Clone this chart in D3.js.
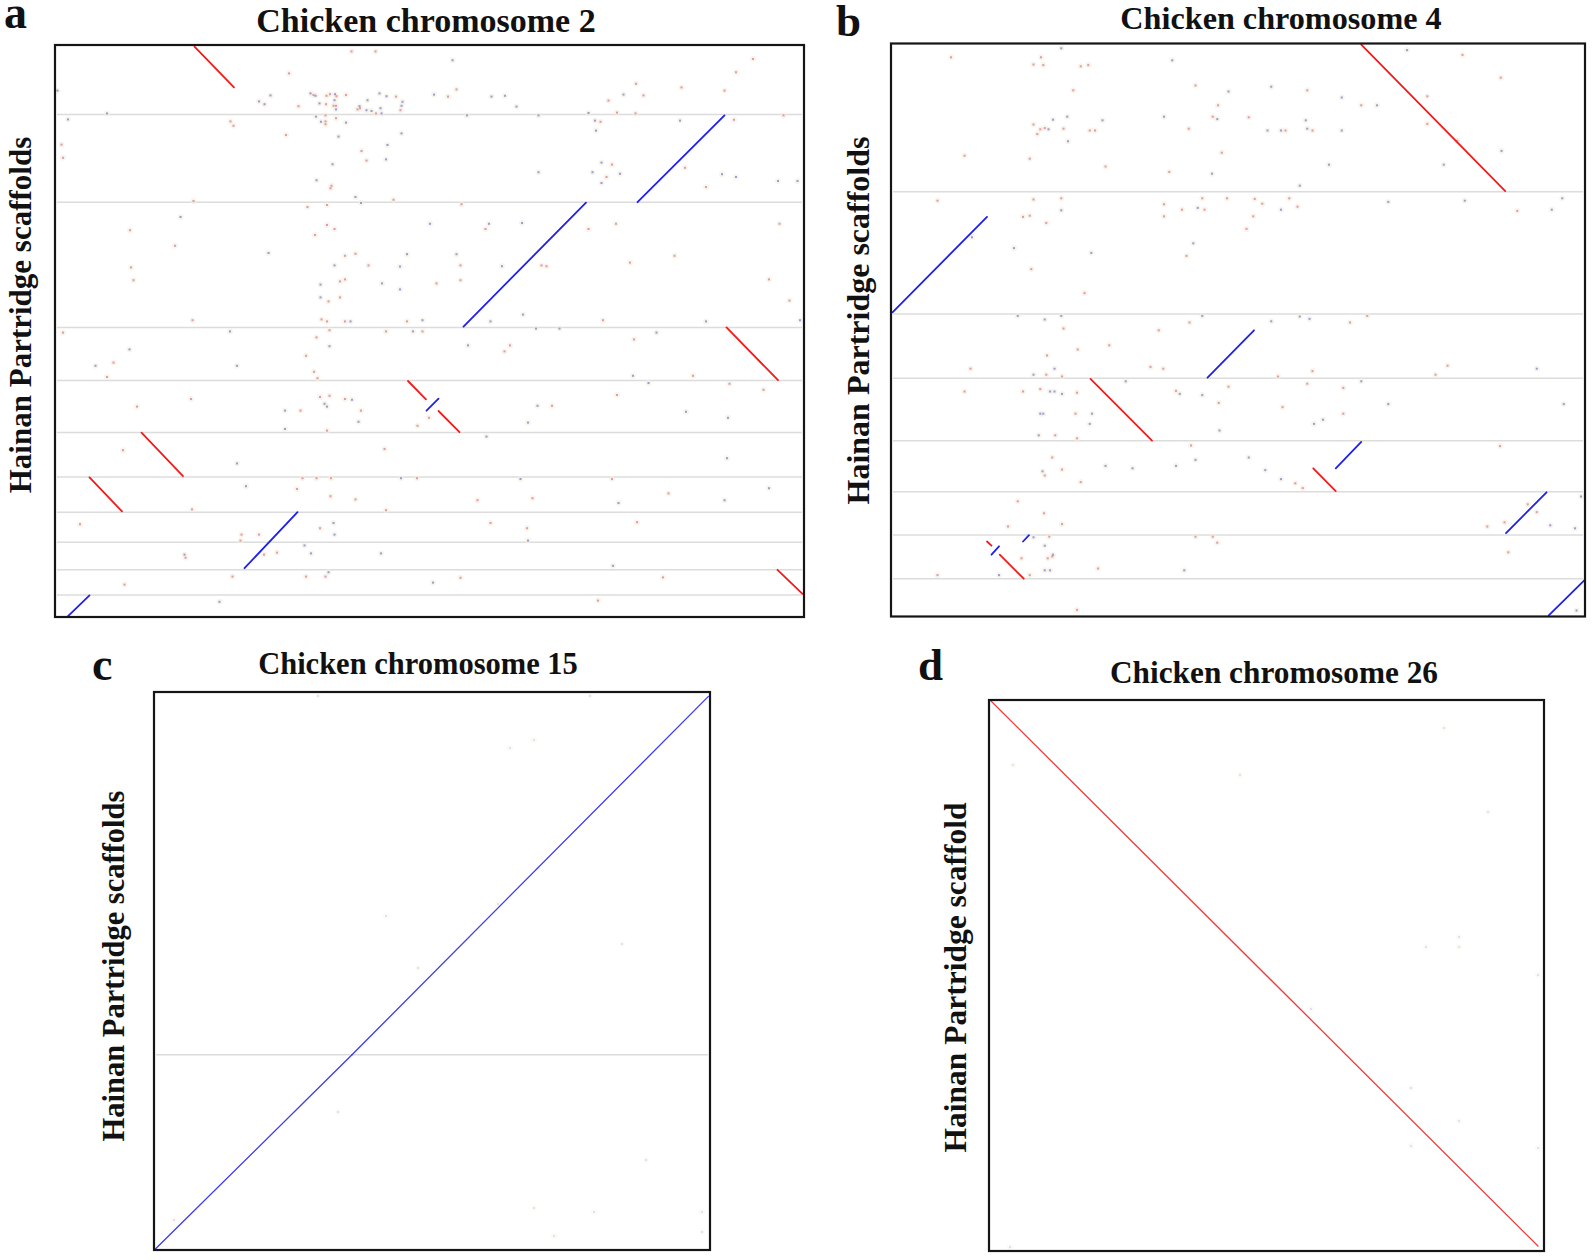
<!DOCTYPE html>
<html><head><meta charset="utf-8">
<script src="https://cdn.jsdelivr.net/npm/d3@7"></script>
<style>body{margin:0;background:#fff}svg{display:block}</style>
</head><body><svg id="chart" width="1595" height="1260"></svg>
<script>
// ---------------- DATA ----------------
const titles = ["Chicken chromosome 2", "Chicken chromosome 4", "Chicken chromosome 15", "Chicken chromosome 26"];
const panelLetters = ["a", "b", "c", "d"];
const yLabels = ["Hainan Partridge scaffolds", "Hainan Partridge scaffolds", "Hainan Partridge scaffolds", "Hainan Partridge scaffold"];
// chicken chromosome length (Mb, x axis) and summed scaffold length (Mb, y axis, top -> bottom)
const chromLengthMb = [149.8, 92.53, 13.9, 5.55];
const scaffoldTotalMb = [143, 95.5, 13.95, 5.51];

// scaffold boundaries along y (Mb)
const scaffoldBreaksA = [17.4, 39.3, 70.6, 83.9, 96.9, 108.0, 116.8, 124.3, 131.2, 137.5];
const scaffoldBreaksB = [24.7, 45.1, 55.8, 66.2, 74.7, 81.9, 89.2];
const scaffoldBreaksC = [9.07];
const scaffoldBreaksD = [];

// alignment blocks: [chrStart, scafStart, chrEnd, scafEnd, strand]
const alignA = [
  [27.9, 0.4, 35.8, 10.6, "-"],
  [116.5, 39.3, 133.9, 17.6, "+"],
  [81.7, 70.4, 106.2, 39.4, "+"],
  [134.3, 70.6, 144.6, 83.8, "-"],
  [70.6, 84.0, 74.2, 88.6, "-"],
  [74.3, 91.4, 76.7, 88.4, "+"],
  [76.7, 91.5, 80.9, 96.8, "-"],
  [17.3, 96.9, 25.6, 107.8, "-"],
  [6.9, 108.1, 13.4, 116.6, "-"],
  [37.9, 130.8, 48.5, 116.8, "+"],
  [144.5, 131.2, 149.5, 137.2, "-"],
  [2.5, 142.9, 6.9, 137.6, "+"]
];
const alignB = [
  [62.7, 0.2, 81.9, 24.6, "-"],
  [0.2, 44.8, 12.8, 28.9, "+"],
  [42.2, 55.7, 48.4, 47.8, "+"],
  [26.6, 55.9, 34.8, 66.2, "-"],
  [59.3, 70.8, 62.7, 66.4, "+"],
  [56.3, 70.8, 59.3, 74.6, "-"],
  [82.0, 81.6, 87.4, 74.8, "+"],
  [12.8, 83.0, 13.4, 83.7, "-"],
  [13.4, 85.2, 14.4, 83.8, "+"],
  [14.5, 85.2, 17.7, 89.2, "-"],
  [17.6, 83.0, 18.4, 81.95, "+"],
  [87.7, 95.3, 92.5, 89.4, "+"]
];
const alignC = [
  [0.04, 13.92, 4.95, 9.07, "+"],
  [4.95, 9.07, 13.86, 0.11, "+"]
];
const alignD = [
  [0.02, 0.01, 5.49, 5.46, "-"]
];

// short spurious hits: [chr, scaf, colour r/b]
const hitsA = [
  [59.3,1.6,"r"],[64.1,1.6,"r"],[79.5,3.8,"b"],[139.6,3.5,"r"],[136.2,6.8,"r"],[46.8,7.1,"r"],[0.5,11.4,"b"],
  [125.3,10.6,"r"],[133.9,11.4,"r"],[116.2,9.7,"r"],[113.7,12.4,"b"],[117.7,12.6,"r"],[80.3,11.1,"r"],[78.6,12.9,"r"],
  [75.8,12.4,"b"],[87.3,12.9,"b"],[90.0,12.7,"b"],[92.3,15.4,"b"],[110.7,13.9,"r"],[112.4,16.9,"r"],[116.1,17.1,"r"],
  [106.7,17.0,"b"],[96.7,17.6,"b"],[82.4,17.6,"b"],[10.4,17.1,"b"],[40.8,14.1,"b"],[43.1,12.6,"b"],[145.7,17.6,"r"],
  [41.9,14.8,"b"],[48.7,15.3,"r"],[51.1,12.1,"b"],[51.7,12.5,"r"],[52.1,12.7,"b"],[52.9,14.6,"b"],[54.3,12.7,"r"],
  [55.0,12.3,"r"],[54.2,14.8,"r"],[56.0,12.3,"b"],[56.3,12.8,"r"],[55.9,13.8,"b"],[55.7,15.2,"r"],[56.2,15.2,"r"],
  [56.2,16.1,"b"],[58.2,12.5,"r"],[60.5,16.1,"r"],[60.9,15.3,"b"],[61.0,15.8,"r"],[62.5,13.8,"b"],[62.3,16.3,"b"],
  [63.3,16.5,"b"],[64.2,17.1,"r"],[64.9,12.1,"b"],[66.3,12.8,"b"],[68.2,12.9,"r"],[69.5,14.2,"b"],[69.3,15.2,"b"],
  [69.1,16.3,"r"],[65.1,15.8,"b"],[65.3,17.1,"b"],
  [35.1,19.1,"r"],[35.7,20.2,"r"],[52.2,17.9,"b"],[53.2,19.2,"b"],[54.1,17.6,"r"],[54.1,19.1,"r"],[54.1,19.8,"r"],
  [56.2,18.3,"r"],[58.2,19.4,"b"],[46.2,22.5,"r"],[56.7,22.9,"b"],[69.3,22.1,"b"],[66.5,25.0,"b"],[61.3,26.5,"r"],
  [62.3,28.9,"r"],[66.2,28.6,"b"],[55.5,29.8,"b"],[52.3,33.8,"b"],[55.3,35.2,"r"],[55.1,35.8,"r"],[2.6,18.6,"b"],
  [108.0,18.9,"b"],[108.2,21.4,"b"],[109.1,19.2,"r"],[96.7,31.8,"b"],[109.3,29.4,"b"],[111.4,29.9,"r"],[107.5,31.8,"b"],
  [110.3,33.0,"r"],[113.0,32.2,"b"],[109.3,34.5,"b"],[133.4,32.3,"b"],[136.2,33.0,"b"],[144.6,34.0,"b"],[148.5,34.0,"b"],
  [130.2,35.5,"r"],[135.8,18.7,"r"],[126.0,30.7,"r"],[125.0,18.9,"b"],[1.3,24.9,"r"],[1.6,28.2,"r"],
  [27.7,39.0,"r"],[60.1,38.0,"b"],[67.7,38.7,"r"],[50.5,40.5,"r"],[54.4,40.0,"r"],[61.2,39.5,"b"],[81.3,39.8,"r"],
  [25.1,43.0,"b"],[15.0,46.3,"r"],[24.0,50.2,"r"],[42.7,52.0,"b"],[54.4,45.0,"r"],[55.9,46.0,"r"],[52.0,47.5,"r"],
  [75.0,44.7,"b"],[86.8,44.7,"b"],[86.1,46.0,"r"],[93.4,44.5,"b"],[112.2,44.7,"r"],[106.7,46.0,"r"],[144.9,44.7,"r"],
  [58.0,52.7,"r"],[60.1,52.2,"r"],[70.4,52.3,"b"],[80.3,52.3,"b"],[81.1,55.1,"r"],[123.9,52.7,"r"],[115.0,54.4,"r"],
  [55.9,55.1,"b"],[62.7,55.1,"r"],[69.0,55.4,"b"],[89.4,55.3,"b"],[97.3,55.1,"r"],[98.3,55.3,"r"],[15.2,55.6,"r"],
  [15.7,58.8,"r"],[53.1,59.9,"b"],[57.0,59.1,"r"],[58.0,58.6,"r"],[65.4,59.6,"b"],[76.3,59.6,"r"],[81.1,58.8,"r"],
  [142.8,58.6,"r"],[53.1,63.1,"b"],[54.7,64.1,"r"],[57.0,63.1,"r"],[69.0,61.1,"b"],[146.9,63.9,"r"],[93.6,67.4,"b"],
  [27.5,68.8,"r"],[53.3,68.6,"r"],[54.4,69.1,"r"],[58.0,69.1,"r"],[59.1,69.1,"b"],[70.4,69.1,"r"],[73.5,68.8,"b"],
  [87.1,69.1,"b"],[109.6,68.8,"r"],[130.2,69.1,"b"],[149.0,68.8,"b"],
  [1.6,71.9,"r"],[35.0,71.6,"b"],[52.3,73.1,"r"],[54.9,71.3,"r"],[66.2,71.6,"r"],[71.6,71.6,"b"],[73.5,71.6,"r"],
  [82.6,75.1,"b"],[91.0,75.1,"r"],[89.9,76.6,"r"],[96.2,70.9,"b"],[100.9,70.9,"b"],[120.3,71.9,"b"],[115.8,73.6,"r"],
  [14.9,76.1,"b"],[50.2,77.7,"r"],[54.9,75.3,"b"],[8.1,80.2,"b"],[11.7,79.4,"r"],[10.4,83.0,"r"],[36.4,80.2,"b"],
  [51.8,81.7,"r"],[52.5,83.3,"r"],[127.6,82.7,"r"],[115.6,82.7,"b"],
  [118.7,84.5,"b"],[141.7,86.2,"r"],[134.9,84.7,"r"],[27.2,88.5,"r"],[16.4,90.4,"r"],[46.0,91.4,"b"],[49.1,91.4,"r"],
  [53.0,88.0,"r"],[54.9,87.7,"r"],[53.9,89.7,"b"],[54.4,90.4,"b"],[58.0,88.5,"r"],[59.4,88.7,"b"],[61.2,91.4,"r"],
  [60.7,94.2,"b"],[46.0,96.0,"b"],[54.4,96.4,"r"],[72.5,95.2,"r"],[74.8,93.2,"r"],[96.5,90.2,"b"],[99.4,90.2,"r"],
  [94.6,94.4,"b"],[112.4,87.5,"r"],[126.2,91.7,"b"],[134.6,93.2,"b"],
  [86.3,97.9,"b"],[13.6,101.3,"r"],[65.9,101.0,"r"],[36.4,104.6,"b"],[134.4,103.3,"b"],
  [38.2,110.3,"b"],[49.5,108.3,"r"],[52.3,108.3,"r"],[55.2,108.3,"r"],[48.4,111.0,"r"],[55.1,112.8,"r"],[60.1,113.6,"r"],
  [69.2,108.3,"b"],[72.4,108.3,"r"],[93.1,108.5,"b"],[111.4,108.5,"r"],[84.5,113.8,"r"],[95.5,113.3,"r"],[112.7,114.5,"b"],
  [122.7,112.1,"r"],[133.9,113.8,"b"],[142.8,110.8,"b"],[27.4,116.1,"r"],[66.2,116.3,"r"],
  [5.0,119.8,"r"],[37.3,122.4,"r"],[40.8,122.4,"r"],[53.0,120.8,"r"],[55.7,119.5,"b"],[55.9,122.4,"b"],[87.1,119.5,"r"],
  [94.4,120.8,"r"],[116.4,119.3,"r"],[37.1,123.9,"r"],[94.6,123.9,"b"],
  [25.9,127.4,"b"],[26.1,128.2,"r"],[41.8,127.4,"r"],[44.4,126.9,"r"],[49.9,125.1,"b"],[51.2,127.1,"b"],[65.2,127.1,"b"],
  [111.6,130.2,"b"],
  [13.9,134.9,"r"],[35.5,132.9,"r"],[50.2,132.9,"r"],[54.1,132.9,"r"],[54.7,131.8,"b"],[75.6,134.4,"b"],[81.1,133.2,"r"],
  [121.6,133.1,"r"],[32.9,139.2,"b"],[108.6,138.9,"r"]
];
const hitsB = [
  [8.0,2.3,"r"],[22.7,0.8,"b"],[20.0,2.3,"r"],[19.0,3.5,"r"],[20.3,3.6,"r"],[25.3,3.8,"r"],[26.3,3.6,"r"],[37.5,2.8,"b"],
  [68.8,1.1,"b"],[76.2,1.9,"r"],[81.3,5.7,"r"],[40.6,7.0,"r"],[50.7,7.2,"b"],[55.5,7.8,"r"],[60.1,9.0,"b"],[45.0,8.0,"b"],
  [24.3,7.8,"r"],[43.6,10.3,"r"],[62.7,10.3,"r"],[64.8,10.3,"b"],[36.4,12.2,"b"],[42.9,12.2,"r"],[43.5,12.6,"b"],
  [47.7,12.3,"r"],[55.3,12.8,"b"],[55.5,14.2,"b"],[56.2,14.5,"r"],[60.1,14.5,"b"],[50.2,14.5,"b"],[52.0,14.5,"b"],
  [52.6,14.5,"r"],[39.7,14.2,"r"],[19.0,13.5,"r"],[19.9,14.3,"r"],[20.5,14.1,"r"],[21.0,14.3,"b"],[19.5,15.1,"r"],
  [21.6,12.7,"b"],[23.5,12.2,"b"],[23.0,14.2,"r"],[26.5,14.5,"r"],[27.2,14.5,"r"],[28.2,12.8,"b"],[23.6,16.3,"b"],
  [9.8,18.7,"r"],[18.5,19.2,"r"],[28.6,20.5,"r"],[37.1,21.4,"r"],[42.8,21.7,"b"],[44.1,18.2,"r"],[58.4,20.2,"b"],
  [73.7,20.2,"b"],[81.4,17.9,"b"],[54.5,23.7,"b"],[71.5,8.8,"r"],[71.5,13.4,"r"],[75.5,16.2,"r"],
  [6.2,26.2,"r"],[19.0,26.0,"r"],[22.7,25.8,"r"],[22.7,27.8,"b"],[17.6,28.9,"r"],[18.5,28.7,"r"],[20.7,29.9,"r"],
  [36.4,26.8,"r"],[38.8,27.7,"r"],[40.9,27.4,"b"],[41.8,27.7,"r"],[41.5,25.8,"r"],[44.8,25.8,"r"],[36.4,28.8,"r"],
  [48.5,25.9,"r"],[49.5,26.7,"r"],[48.3,28.8,"r"],[52.0,27.7,"b"],[53.1,25.8,"r"],[54.2,27.2,"r"],[66.3,26.4,"b"],
  [76.5,26.2,"b"],[83.5,27.9,"r"],[88.1,27.7,"b"],[89.5,25.8,"b"],[47.4,30.9,"r"],[40.3,33.3,"b"],[39.4,35.4,"r"],
  [26.7,34.9,"b"],[16.4,34.1,"b"],[10.8,32.3,"b"],[18.7,37.6,"r"],[25.8,41.6,"r"],
  [16.9,45.4,"b"],[22.7,45.4,"b"],[20.5,46.0,"b"],[41.5,45.4,"b"],[54.5,45.5,"b"],[55.8,45.9,"b"],[50.7,46.3,"b"],
  [39.8,46.5,"r"],[61.2,46.5,"r"],[63.5,45.4,"r"],[23.0,47.5,"r"],[35.7,47.8,"r"],[20.8,52.0,"r"],[24.9,51.0,"r"],
  [29.1,50.3,"r"],[19.0,55.2,"b"],[21.8,54.2,"b"],[20.7,55.2,"r"],[22.8,55.5,"r"],[10.6,54.2,"r"],[34.6,53.9,"r"],
  [36.3,54.2,"r"],[56.2,54.6,"r"],[51.6,55.5,"r"],[72.6,55.2,"r"],[74.2,53.7,"r"],[86.1,54.2,"b"],
  [9.8,58.0,"r"],[17.6,58.0,"r"],[19.9,57.6,"r"],[21.2,58.0,"b"],[21.8,58.0,"b"],[22.8,58.4,"b"],[24.8,58.2,"r"],
  [19.9,61.7,"b"],[20.3,61.7,"b"],[24.6,61.7,"r"],[26.8,61.7,"b"],[26.5,63.4,"b"],[31.3,56.3,"b"],[38.0,57.9,"r"],
  [38.5,58.4,"b"],[41.5,58.6,"b"],[43.7,59.9,"r"],[45.0,57.2,"r"],[55.5,56.7,"r"],[60.3,57.4,"r"],[62.7,56.3,"b"],
  [66.3,60.1,"b"],[60.3,61.7,"r"],[52.2,60.6,"r"],[56.4,63.4,"b"],[57.6,62.7,"b"],[43.8,64.5,"b"],[89.7,60.1,"b"],
  [19.7,65.3,"b"],[21.9,65.3,"r"],[24.8,65.8,"r"],
  [40.0,67.0,"r"],[47.7,69.0,"b"],[21.5,69.0,"r"],[22.8,71.0,"r"],[20.2,71.3,"b"],[20.5,72.0,"r"],[28.6,70.4,"b"],
  [32.2,70.8,"b"],[38.0,70.4,"b"],[40.6,69.4,"b"],[49.9,71.1,"b"],[52.0,72.6,"b"],[53.9,73.3,"r"],[54.9,74.1,"r"],
  [25.3,73.1,"r"],[81.2,67.1,"r"],
  [16.9,76.3,"r"],[20.4,78.3,"r"],[22.8,80.1,"r"],[15.6,80.5,"r"],[19.0,82.3,"b"],[21.1,82.2,"r"],[40.6,82.2,"r"],
  [42.9,82.2,"r"],[79.5,80.5,"r"],[81.8,79.8,"r"],[84.9,76.8,"r"],[86.1,78.1,"r"],[87.9,80.3,"b"],[91.2,80.8,"b"],
  [92.0,75.5,"b"],
  [20.5,83.7,"b"],[21.5,85.5,"r"],[20.9,85.8,"r"],[21.6,85.2,"b"],[17.4,85.8,"r"],[20.5,87.8,"b"],[21.2,87.8,"b"],
  [18.5,88.6,"r"],[14.4,88.6,"b"],[6.2,88.6,"r"],[27.6,87.5,"r"],[39.1,87.8,"b"],[43.5,83.2,"r"],[82.3,84.8,"r"],
  [24.8,94.4,"r"],[91.4,94.5,"b"]
];
const hitsC = [
  [4.1,0.1,"r"],[10.9,0.1,"r"],[8.9,1.4,"r"],[9.5,1.2,"r"],[5.8,5.6,"b"],[6.6,6.9,"r"],[11.7,6.3,"r"],[9.6,4.4,"b"],
  [8.6,5.3,"b"],[4.6,10.5,"b"],[12.3,11.7,"b"],[9.5,12.9,"r"],[11.0,13.0,"b"],[13.7,13.0,"r"],[10.0,13.6,"r"],
  [13.7,13.5,"b"],[0.5,13.2,"b"]
];
const hitsD = [
  [4.55,0.28,"r"],[0.24,0.65,"r"],[2.51,0.75,"r"],[4.99,1.12,"r"],[4.70,2.37,"b"],[4.70,2.47,"r"],[4.37,2.47,"b"],
  [5.49,2.75,"b"],[3.22,3.09,"b"],[4.22,3.88,"b"],[4.70,4.21,"r"],[4.22,4.46,"b"],[5.49,4.48,"b"],[0.21,5.47,"b"]
];

// ---------------- LAYOUT ----------------
const layout = [
  {box:[55,45,804,617], title:{x:426,y:31.5,size:34}, letter:{x:4,y:28,size:46}, ylab:{x:30.5,y:315,size:31}, lw:1.8, faint:false},
  {box:[891,43.5,1585,616.5], title:{x:1281,y:28.5,size:32.2}, letter:{x:836,y:36,size:45}, ylab:{x:868.5,y:320.5,size:32}, lw:1.8, faint:false},
  {box:[154,692,710,1250], title:{x:418,y:673.5,size:30.5}, letter:{x:92,y:680,size:46}, ylab:{x:124,y:966,size:30.5}, lw:1.3, faint:true},
  {box:[989,700,1544,1251], title:{x:1274,y:682.5,size:31.3}, letter:{x:918,y:680,size:45}, ylab:{x:966,y:977.5,size:31.5}, lw:1.3, faint:true}
];
const breaks = [scaffoldBreaksA, scaffoldBreaksB, scaffoldBreaksC, scaffoldBreaksD];
const aligns = [alignA, alignB, alignC, alignD];
const hits = [hitsA, hitsB, hitsC, hitsD];

const FONT = "'Liberation Serif','Times New Roman',Times,serif";
const svg = d3.select("#chart");
svg.append("rect").attr("width",1595).attr("height",1260).attr("fill","#fff");

layout.forEach((L, i) => {
  const [x0,y0,x1,y1] = L.box;
  const x = d3.scaleLinear().domain([0, chromLengthMb[i]]).range([x0, x1]);
  const y = d3.scaleLinear().domain([0, scaffoldTotalMb[i]]).range([y0, y1]);
  const g = svg.append("g");

  // scaffold boundaries
  g.selectAll("line.sep").data(breaks[i]).join("line")
    .attr("x1", x(0) + 2).attr("x2", x(chromLengthMb[i]) - 2)
    .attr("y1", d => y(d)).attr("y2", d => y(d))
    .attr("stroke", "#dcdcdc").attr("stroke-width", 1.5);

  // spurious hits
  const redC = L.faint ? "#ead2d8" : "#e3889a";
  const bluC = L.faint ? "#d4d2ec" : "#8c8cd6";
  const hg = g.append("g");
  hg.selectAll("circle").data(hits[i]).join("circle")
    .attr("cx", d => x(d[0])).attr("cy", d => y(d[1])).attr("r", 3)
    .attr("fill", "#f2efdf").attr("opacity", L.faint ? 0.3 : 0.6);
  hg.selectAll("rect").data(hits[i]).join("rect")
    .attr("x", d => x(d[0]) - 1).attr("y", d => y(d[1]) - 1).attr("width", 2).attr("height", 2)
    .attr("fill", d => d[2] === "r" ? redC : bluC).attr("opacity", L.faint ? 0.7 : 0.85);

  // alignment blocks
  g.selectAll("line.aln").data(aligns[i]).join("line")
    .attr("x1", d => x(d[0])).attr("y1", d => y(d[1]))
    .attr("x2", d => x(d[2])).attr("y2", d => y(d[3]))
    .attr("stroke", d => d[4] === "+" ? (L.faint ? "#3a3af2" : "#1f1fee") : (L.faint ? "#f23a3a" : "#f41a1a"))
    .attr("stroke-width", L.lw).attr("stroke-linecap", "round");

  // frame
  g.append("rect").attr("x", x0).attr("y", y0).attr("width", x1 - x0).attr("height", y1 - y0)
    .attr("fill", "none").attr("stroke", "#151515").attr("stroke-width", 2.2);

  // texts
  svg.append("text").attr("x", L.title.x).attr("y", L.title.y).attr("text-anchor", "middle")
    .style("font-family", FONT).style("font-weight", "bold").style("font-size", L.title.size + "px")
    .attr("fill", "#111").text(titles[i]);
  svg.append("text").attr("x", L.letter.x).attr("y", L.letter.y)
    .style("font-family", FONT).style("font-weight", "bold").style("font-size", L.letter.size + "px")
    .attr("fill", "#111").text(panelLetters[i]);
  svg.append("text").attr("transform", `translate(${L.ylab.x},${L.ylab.y}) rotate(-90)`)
    .attr("text-anchor", "middle")
    .style("font-family", FONT).style("font-weight", "bold").style("font-size", L.ylab.size + "px")
    .attr("fill", "#111").text(yLabels[i]);
});
</script>
</body></html>
